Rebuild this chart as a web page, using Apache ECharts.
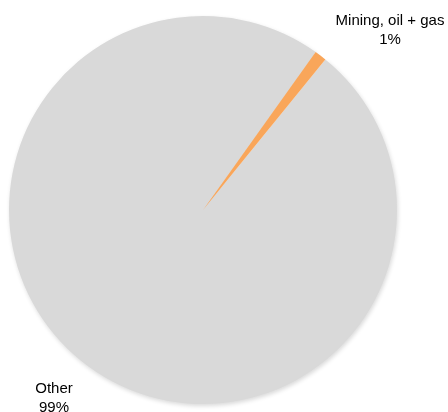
<!DOCTYPE html>
<html><head><meta charset="utf-8">
<script src="https://cdn.jsdelivr.net/npm/echarts@6/dist/echarts.min.js"></script>
<style>html,body{margin:0;padding:0;background:#fff}#c{width:448px;height:412px}</style>
</head><body><div id="c"></div>
<script>
const categories = ['Other', 'Mining, oil + gas'];
const values = [99, 1];
const colors = ['#d9d9d9', '#f9a65a'];

const chart = echarts.init(document.getElementById('c'), null, {renderer: 'canvas'});
chart.setOption({
  animation: false,
  series: [{
    type: 'pie',
    center: [203, 210],
    radius: [0, 194],
    startAngle: 50.9,
    clockwise: true,
    avoidLabelOverlap: false,
    data: categories.map((c, i) => ({
      name: c, value: values[i],
      itemStyle: i === 0
        ? {color: colors[i], shadowBlur: 4, shadowOffsetX: 1, shadowOffsetY: 2, shadowColor: 'rgba(0,0,0,0.15)'}
        : {color: colors[i]}
    })),
    label: {
      show: true,
      position: 'outside',
      formatter: p => p.name + '\n' + Math.round(p.percent) + '%',
      fontFamily: 'Liberation Sans',
      fontSize: 15,
      lineHeight: 19,
      color: '#000',
      align: 'center'
    },
    labelLine: {show: false, length: 20, length2: 0},
    labelLayout: function (p) {
      if (p.dataIndex === 1) return {x: 390, y: 30, align: 'center', verticalAlign: 'middle'};
      return {x: 54, y: 398, align: 'center', verticalAlign: 'middle'};
    }
  }]
});
</script></body></html>
